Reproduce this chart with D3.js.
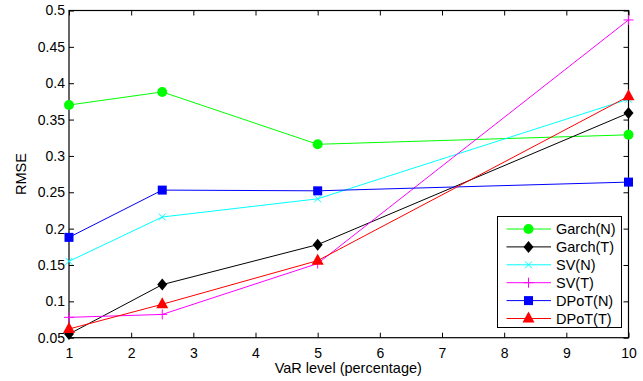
<!DOCTYPE html>
<html><head><meta charset="utf-8">
<script src="https://cdn.jsdelivr.net/npm/d3@7"></script>
<style>body{margin:0;background:#fff}svg{display:block}text{font-family:"Liberation Sans",Arial,sans-serif}</style>
</head><body>
<script>
const xVals = [1, 2.5, 5, 10];
const seriesNames = ["Garch(N)", "Garch(T)", "SV(N)", "SV(T)", "DPoT(N)", "DPoT(T)"];
const garchN = [0.370, 0.388, 0.316, 0.329];
const garchT = [0.055, 0.123, 0.178, 0.359];
const svN = [0.155, 0.216, 0.241, 0.378];
const svT = [0.078, 0.082, 0.152, 0.487];
const dpotN = [0.188, 0.253, 0.252, 0.264];
const dpotT = [0.062, 0.096, 0.156, 0.382];
const xTicks = [1,2,3,4,5,6,7,8,9,10];
const yTicks = [0.05,0.1,0.15,0.2,0.25,0.3,0.35,0.4,0.45,0.5];
const colors = ["#00ff00","#000000","#00ffff","#ff00ff","#0000ff","#ff0000"];
const markers = ["circle","diamond","x","plus","square","triangle"];
const allValues = [garchN, garchT, svN, svT, dpotN, dpotT];

const W=643,H=381, L=69, R=628.5, T=10.5, B=337.7;
const svg=d3.select("body").append("svg").attr("width",W).attr("height",H);
const x=d3.scaleLinear().domain([1,10]).range([L,R]);
const y=d3.scaleLinear().domain([0.05,0.5]).range([B,T]);

const fmt = d => String(+d.toFixed(2));
const tl=5;
const gx=svg.append("g").attr("transform",`translate(0,${B})`).call(d3.axisBottom(x).tickValues(xTicks).tickSize(-tl).tickPadding(10).tickFormat(d=>d));
const gxt=svg.append("g").attr("transform",`translate(0,${T})`).call(d3.axisTop(x).tickValues(xTicks).tickSize(-tl).tickFormat(""));
const gy=svg.append("g").attr("transform",`translate(${L},0)`).call(d3.axisLeft(y).tickValues(yTicks).tickSize(-tl).tickPadding(4).tickFormat(fmt));
const gyr=svg.append("g").attr("transform",`translate(${R},0)`).call(d3.axisRight(y).tickValues(yTicks).tickSize(-tl).tickFormat(""));
[gx,gxt,gy,gyr].forEach(g=>{
  g.select(".domain").remove();
  g.selectAll("line").attr("stroke","#000");
  g.selectAll("text").attr("font-size",14).attr("fill","#000").style("font-family","'Liberation Sans',Arial,sans-serif");
});
svg.append("rect").attr("x",L).attr("y",T).attr("width",R-L).attr("height",B-T).attr("fill","none").attr("stroke","#000").attr("stroke-width",1.2);

svg.append("text").attr("x",(L+R)/2-0.5).attr("y",373).attr("text-anchor","middle").attr("font-size",14.5).text("VaR level (percentage)");
svg.append("text").attr("transform",`translate(26,${(T+B)/2}) rotate(-90)`).attr("text-anchor","middle").attr("font-size",14.5).text("RMSE");

function drawMarker(g, type, cx, cy, color){
  if(type==="circle") g.append("circle").attr("cx",cx).attr("cy",cy).attr("r",5).attr("fill",color);
  else if(type==="diamond") g.append("path").attr("d",`M${cx},${cy-6}L${cx+5},${cy}L${cx},${cy+6}L${cx-5},${cy}Z`).attr("fill",color);
  else if(type==="square") g.append("rect").attr("x",cx-4.5).attr("y",cy-4.5).attr("width",9).attr("height",9).attr("fill",color);
  else if(type==="triangle") g.append("path").attr("d",`M${cx},${cy-7}L${cx+6},${cy+4}L${cx-6},${cy+4}Z`).attr("fill",color);
  else if(type==="x") g.append("path").attr("d",`M${cx-3.5},${cy-3.5}L${cx+3.5},${cy+3.5}M${cx-3.5},${cy+3.5}L${cx+3.5},${cy-3.5}`).attr("stroke",color).attr("stroke-width",1);
  else if(type==="plus") g.append("path").attr("d",`M${cx-5},${cy}L${cx+5},${cy}M${cx},${cy-5}L${cx},${cy+5}`).attr("stroke",color).attr("stroke-width",1);
}

const line=d3.line().x(d=>x(d[0])).y(d=>y(d[1]));
allValues.forEach((vals,i)=>{
  const g=svg.append("g");
  const pts=xVals.map((xv,j)=>[xv,vals[j]]);
  g.append("path").attr("d",line(pts)).attr("fill","none").attr("stroke",colors[i]).attr("stroke-width",1);
  pts.forEach(p=>drawMarker(g,markers[i],x(p[0]),y(p[1]),colors[i]));
});

const lg=svg.append("g");
lg.append("rect").attr("x",497.5).attr("y",216.5).attr("width",124).attr("height",111).attr("fill","#fff").attr("stroke","#000").attr("stroke-width",1);
seriesNames.forEach((n,i)=>{
  const ly=229+i*17.9;
  lg.append("line").attr("x1",506.5).attr("x2",551).attr("y1",ly).attr("y2",ly).attr("stroke",colors[i]).attr("stroke-width",1);
  drawMarker(lg,markers[i],528.5,ly,colors[i]);
  lg.append("text").attr("x",556).attr("y",ly+5).attr("font-size",14.5).text(n);
});
</script>
</body></html>
